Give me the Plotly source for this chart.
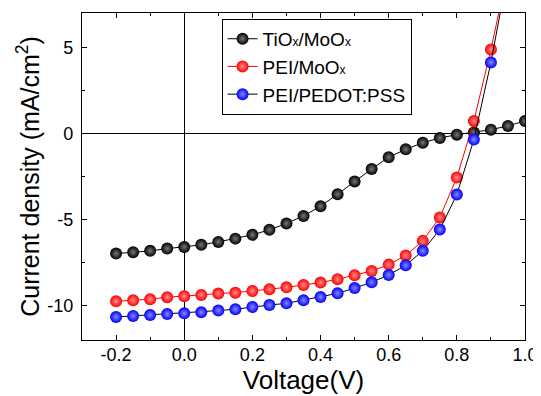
import plotly.graph_objects as go

voltage = [-0.2, -0.15, -0.1, -0.05, 0.0, 0.05, 0.1, 0.15, 0.2, 0.25, 0.3, 0.35, 0.4,
           0.45, 0.5, 0.55, 0.6, 0.65, 0.7, 0.75, 0.8, 0.85, 0.9, 0.95, 1.0]

tiox_moox = [-6.98, -6.90, -6.82, -6.69, -6.59, -6.47, -6.30, -6.11, -5.89, -5.60, -5.23,
             -4.79, -4.23, -3.53, -2.79, -2.06, -1.38, -0.92, -0.54, -0.26, -0.07, 0.06,
             0.22, 0.44, 0.73]

volt_pei = [-0.2, -0.15, -0.1, -0.05, 0.0, 0.05, 0.1, 0.15, 0.2, 0.25, 0.3, 0.35, 0.4,
            0.45, 0.5, 0.55, 0.6, 0.65, 0.7, 0.75, 0.8, 0.85, 0.9, 0.95]

pei_moox = [-9.75, -9.69, -9.63, -9.51, -9.46, -9.38, -9.30, -9.25, -9.15, -9.05, -8.94,
            -8.80, -8.66, -8.47, -8.24, -7.99, -7.62, -7.09, -6.24, -4.88, -2.56, 0.73,
            4.88, 9.5]

pei_pedot = [-10.66, -10.60, -10.55, -10.49, -10.45, -10.39, -10.29, -10.21, -10.08, -9.97,
             -9.87, -9.69, -9.50, -9.29, -8.98, -8.65, -8.22, -7.66, -6.82, -5.58, -3.55,
             -0.35, 4.13, 9.4]

x_ticks = [-0.2, 0.0, 0.2, 0.4, 0.6, 0.8, 1.0]
x_labels = ["-0.2", "0.0", "0.2", "0.4", "0.6", "0.8", "1.0"]
y_ticks = [-10, -5, 0, 5]
y_labels = ["-10", "-5", "0", "5"]

FONT = "Liberation Sans, Arial, sans-serif"
SUB = '<span style="font-size:12px">x</span>'

series = [
    ("TiO" + SUB + "/MoO" + SUB, voltage, tiox_moox, "#000000", "#000000", "#777777"),
    ("PEI/MoO" + SUB, volt_pei, pei_moox, "#ff0000", "#ff0000", "#ff8c8c"),
    ("PEI/PEDOT:PSS", volt_pei, pei_pedot, "#0000ff", "#000000", "#8888ff"),
]

fig = go.Figure()
for name, xs, ys, mcol, lcol, hcol in series:
    fig.add_trace(go.Scatter(
        x=xs, y=ys, name=name, mode="lines+markers",
        line=dict(color=lcol, width=1),
        marker=dict(size=12, color=mcol,
                    gradient=dict(type="radial", color=hcol),
                    line=dict(width=0)),
    ))

axis_common = dict(
    showline=True, linecolor="black", linewidth=1.3, mirror="ticks",
    ticks="inside", ticklen=5, tickwidth=1, tickcolor="black",
    showgrid=False, zeroline=True, zerolinecolor="black", zerolinewidth=1.3,
    tickfont=dict(family=FONT, size=18, color="black"),
    automargin=False,
)

fig.update_xaxes(
    range=[-0.3, 1.0], tickvals=x_ticks, ticktext=x_labels,
    minor=dict(dtick=0.1, tick0=0, ticks="inside", ticklen=3, tickcolor="black"),
    title=dict(text="Voltage(V)", font=dict(family=FONT, size=26, color="black"), standoff=0),
    ticklabelstandoff=-2,
    **axis_common,
)
fig.update_yaxes(
    range=[-12, 7], tickvals=y_ticks, ticktext=y_labels,
    minor=dict(dtick=2.5, tick0=0, ticks="inside", ticklen=3, tickcolor="black"),
    title=dict(text="Current density (mA/cm<sup>2</sup>)",
               font=dict(family=FONT, size=25, color="black"), standoff=0),
    ticklabelstandoff=4,
    **axis_common,
)

# page body has an 8px default margin; offset the figure accordingly
fig.update_layout(
    width=533, height=388,
    margin=dict(l=74, r=16, t=5, b=56),
    paper_bgcolor="white", plot_bgcolor="white",
    showlegend=True,
    legend=dict(x=0.315, y=0.982, xanchor="left", yanchor="top",
                bordercolor="black", borderwidth=1, bgcolor="white",
                font=dict(family=FONT, size=19, color="black"),
                tracegroupgap=0, itemwidth=30),
)

fig.write_html("out.html")
